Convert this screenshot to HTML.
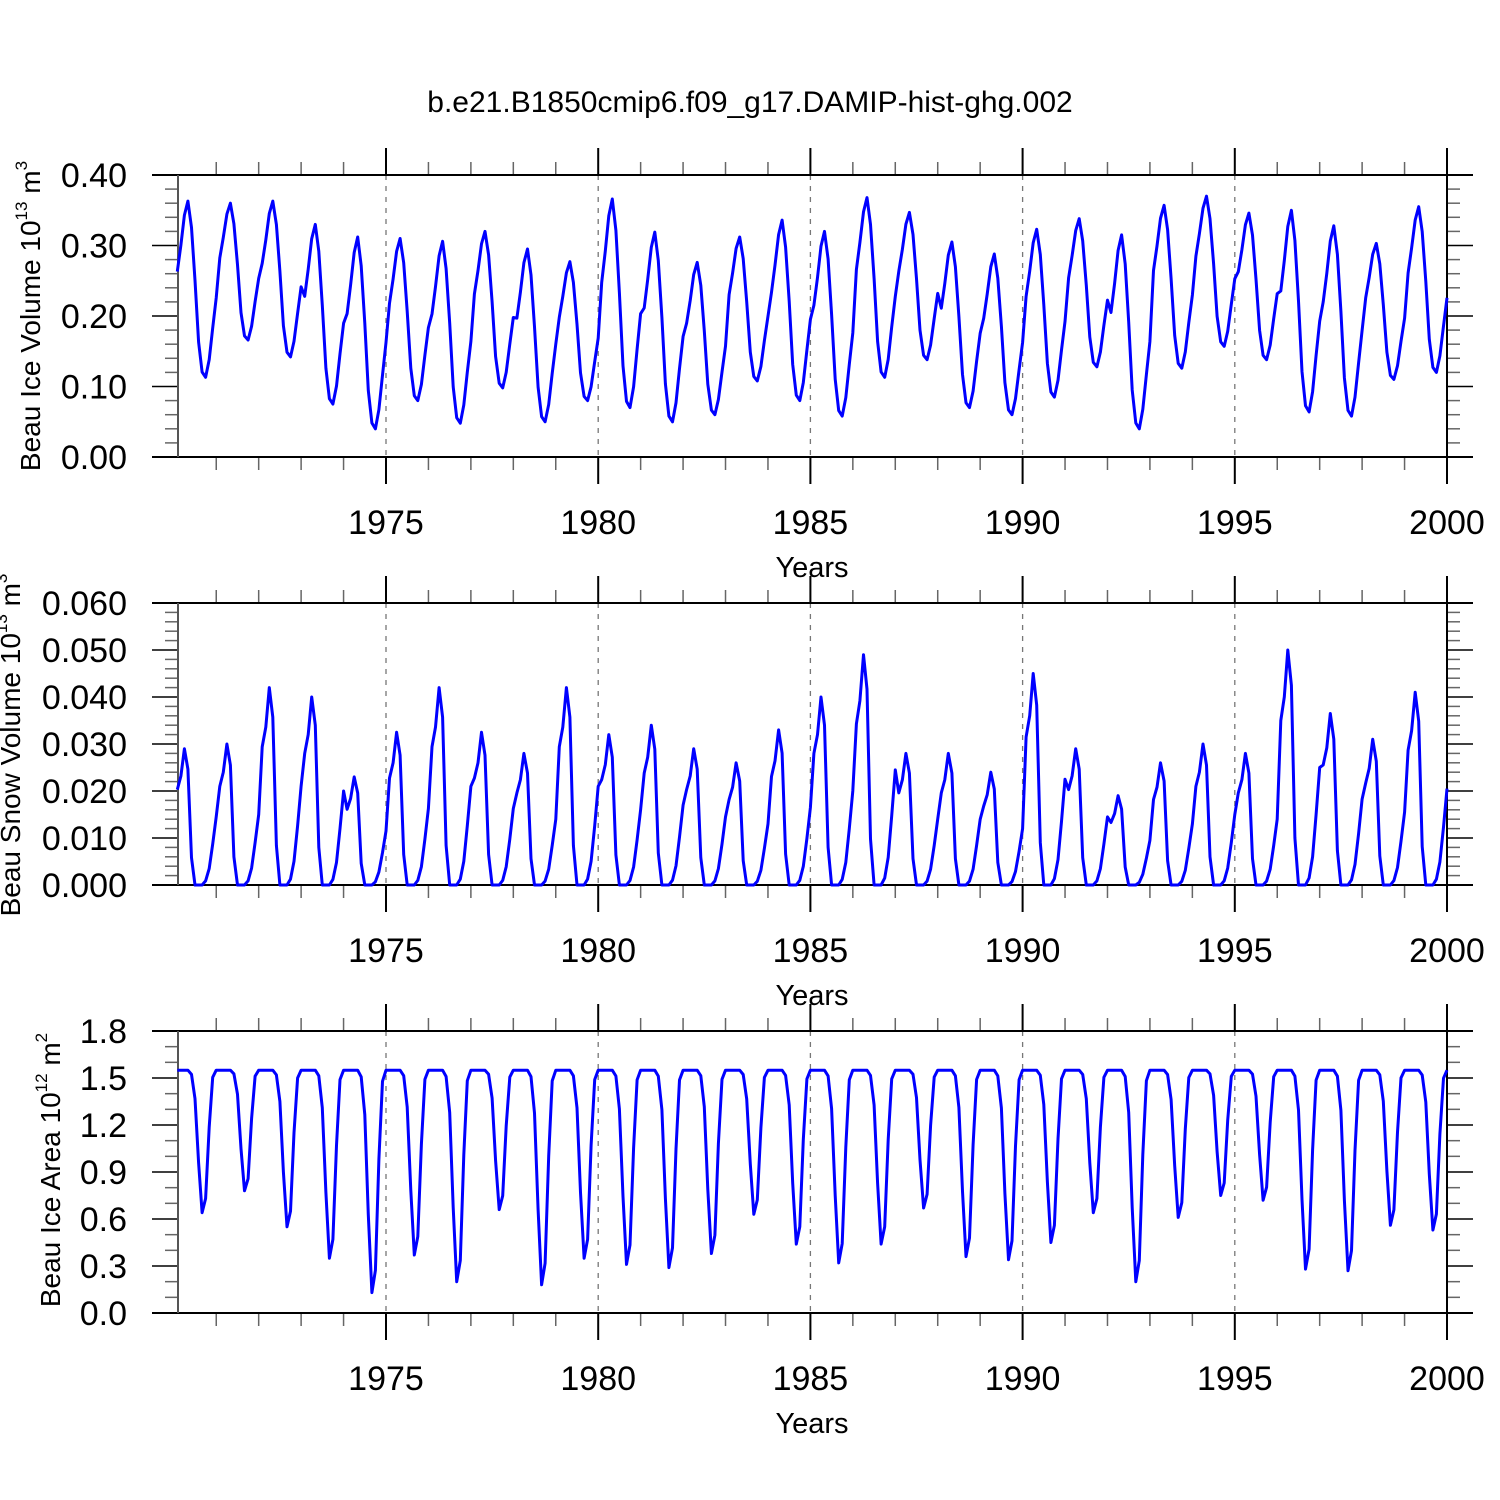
<!DOCTYPE html>
<html><head><meta charset="utf-8"><style>
html,body{margin:0;padding:0;background:#fff;}
svg{display:block;font-family:"Liberation Sans",Arial,sans-serif;}
</style></head><body>
<svg id="chart" width="1500" height="1500" viewBox="0 0 1500 1500" xmlns="http://www.w3.org/2000/svg">
<rect width="1500" height="1500" fill="#fff"/>
<text x="750" y="112" font-size="30" text-anchor="middle">b.e21.B1850cmip6.f09_g17.DAMIP-hist-ghg.002</text>
</svg>
<script>
// ---- data ----
const years = [1970,1971,1972,1973,1974,1975,1976,1977,1978,1979,1980,1981,1982,1983,1984,1985,1986,1987,1988,1989,1990,1991,1992,1993,1994,1995,1996,1997,1998,1999];
const volMax = [0.363,0.36,0.363,0.33,0.312,0.31,0.306,0.32,0.295,0.277,0.366,0.319,0.276,0.312,0.336,0.32,0.368,0.347,0.305,0.288,0.323,0.338,0.315,0.357,0.37,0.346,0.35,0.328,0.303,0.355];
const volMin = [0.113,0.166,0.142,0.075,0.04,0.08,0.048,0.098,0.05,0.08,0.07,0.05,0.06,0.108,0.08,0.058,0.113,0.138,0.07,0.06,0.085,0.128,0.04,0.126,0.157,0.138,0.064,0.058,0.11,0.12];
const volShape = [0.6,0.75,0.92,1.0,0.85,0.55,0.2,0.03,0.0,0.1,0.28,0.45];
const snowMax = [0.029,0.030,0.042,0.040,0.023,0.0325,0.042,0.0325,0.028,0.042,0.032,0.034,0.029,0.026,0.033,0.040,0.049,0.028,0.028,0.024,0.045,0.029,0.019,0.026,0.030,0.028,0.050,0.0365,0.031,0.041];
const snowShape = [0.7,0.8,1.0,0.85,0.2,0.0,0.0,0.0,0.03,0.12,0.3,0.5];
const areaMax = 1.55;
const areaMin = [0.64,0.78,0.55,0.35,0.13,0.37,0.20,0.66,0.18,0.35,0.31,0.29,0.38,0.63,0.44,0.32,0.44,0.67,0.36,0.34,0.45,0.64,0.20,0.61,0.75,0.72,0.28,0.27,0.56,0.53];
const areaShape = [1,1,1,1,0.97,0.8,0.35,0.0,0.1,0.6,0.95,1];
const volTicks = ["0.00","0.10","0.20","0.30","0.40"];
const snowTicks = ["0.000","0.010","0.020","0.030","0.040","0.050","0.060"];
const areaTicks = ["0.0","0.3","0.6","0.9","1.2","1.5","1.8"];
const xTickLabels = ["1975","1980","1985","1990","1995","2000"];

const NS = "http://www.w3.org/2000/svg";
const svg = document.getElementById('chart');
function xs(t){ return 386 + (t-1975)*42.44; }
function mk(tag, attrs, parent){
  const e = document.createElementNS(NS, tag);
  for (const k in attrs) e.setAttribute(k, attrs[k]);
  (parent||svg).appendChild(e); return e;
}
function buildSeries(fn){
  const out=[];
  years.forEach((y,i)=>{ for(let m=0;m<12;m++) out.push([y+(m+1)/12, fn(i,m)]); });
  return out;
}
const volSeries = buildSeries((i,m)=>volMin[i]+(volMax[i]-volMin[i])*volShape[m]);
const snowSeries = buildSeries((i,m)=>snowMax[i]*snowShape[m]);
const areaSeries = buildSeries((i,m)=>areaMin[i]+(areaMax-areaMin[i])*areaShape[m]);

const panels = [
  {key:'ice-volume', top:175, max:0.4, ticks:volTicks, minorStep:0.02, majorStep:0.1, series:volSeries,
   title:['Beau Ice Volume 10','13',' m','3'], tx:40, ty:316},
  {key:'snow-volume', top:603, max:0.06, ticks:snowTicks, minorStep:0.002, majorStep:0.01, series:snowSeries,
   title:['Beau Snow Volume 10','13',' m','3'], tx:20, ty:745},
  {key:'ice-area', top:1031, max:1.8, ticks:areaTicks, minorStep:0.1, majorStep:0.3, series:areaSeries,
   title:['Beau Ice Area 10','12',' m','2'], tx:60, ty:1170}
];
panels.forEach(p=>{
  const H=282, y0=p.top, y1=p.top+H;
  const ys = v => y1 - v/p.max*H;
  const g = mk('g',{});
  
  
  for(let yr=1975; yr<=1995; yr+=5){
    const l = mk('line',{x1:xs(yr),x2:xs(yr),y1:y0,y2:y1,stroke:'#777','stroke-width':1.3,'stroke-dasharray':'5,6'},g);
    
    
  }
  for(let yr=1971; yr<=2000; yr++){
    const major = yr%5===0, len = major?27:13;
    mk('line',{x1:xs(yr),x2:xs(yr),y1:y0-len,y2:y0,stroke:major?'#000':'#666','stroke-width':major?2:1.5},g);
    mk('line',{x1:xs(yr),x2:xs(yr),y1:y1,y2:y1+len,stroke:major?'#000':'#666','stroke-width':major?2:1.5},g);
  }
  const nMinor = Math.round(p.max/p.minorStep);
  for(let k=0;k<=nMinor;k++){
    const v=k*p.minorStep, y=ys(v);
    const major = Math.abs(v/p.majorStep - Math.round(v/p.majorStep))<1e-6;
    const len = major?26:13;
    mk('line',{x1:178-len,x2:178,y1:y,y2:y,stroke:major?'#000':'#666','stroke-width':1.5},g);
    mk('line',{x1:1447,x2:1447+len,y1:y,y2:y,stroke:major?'#000':'#666','stroke-width':1.5},g);
  }
  mk('line',{x1:152,x2:1473,y1:y0,y2:y0,stroke:'#000','stroke-width':2},g);
  mk('line',{x1:152,x2:1473,y1:y1,y2:y1,stroke:'#000','stroke-width':2},g);
  mk('line',{x1:178,x2:178,y1:y0,y2:y1,stroke:'#555','stroke-width':2},g);
  mk('line',{x1:1447,x2:1447,y1:y0-27,y2:y1+27,stroke:'#000','stroke-width':2},g);
  p.ticks.forEach((t,k)=>{
    const tx = mk('text',{x:127,y:ys(k*p.majorStep)+12,'font-size':34,'text-anchor':'end'},g);
    tx.textContent=t;
    
    
  });
  xTickLabels.forEach(t=>{
    const tx = mk('text',{x:xs(+t),y:y1+77,'font-size':34,'text-anchor':'middle'},g);
    tx.textContent=t;
    
    
  });
  const xt = mk('text',{x:812,y:y1+120,'font-size':29,'text-anchor':'middle'},g);
  xt.textContent='Years';
  
  
  const yt = mk('text',{x:p.tx,y:p.ty,'font-size':28,'text-anchor':'middle',transform:`rotate(-90 ${p.tx} ${p.ty})`},g);
  
  
  const a=mk('tspan',{},yt); a.textContent=p.title[0];
  const b=mk('tspan',{'font-size':17,dy:-13},yt); b.textContent=p.title[1];
  const c=mk('tspan',{dy:13},yt); c.textContent='\u00a0m';
  const d2=mk('tspan',{'font-size':17,dy:-13},yt); d2.textContent=p.title[3];
  const d = p.series.map((pt,i)=>(i?'L':'M')+xs(pt[0]).toFixed(1)+','+ys(pt[1]).toFixed(1)).join('');
  const path = mk('path',{d:d,fill:'none',stroke:'#0000ff','stroke-width':3,'stroke-linejoin':'round'},g);
  
  
});
</script>
</body></html>
